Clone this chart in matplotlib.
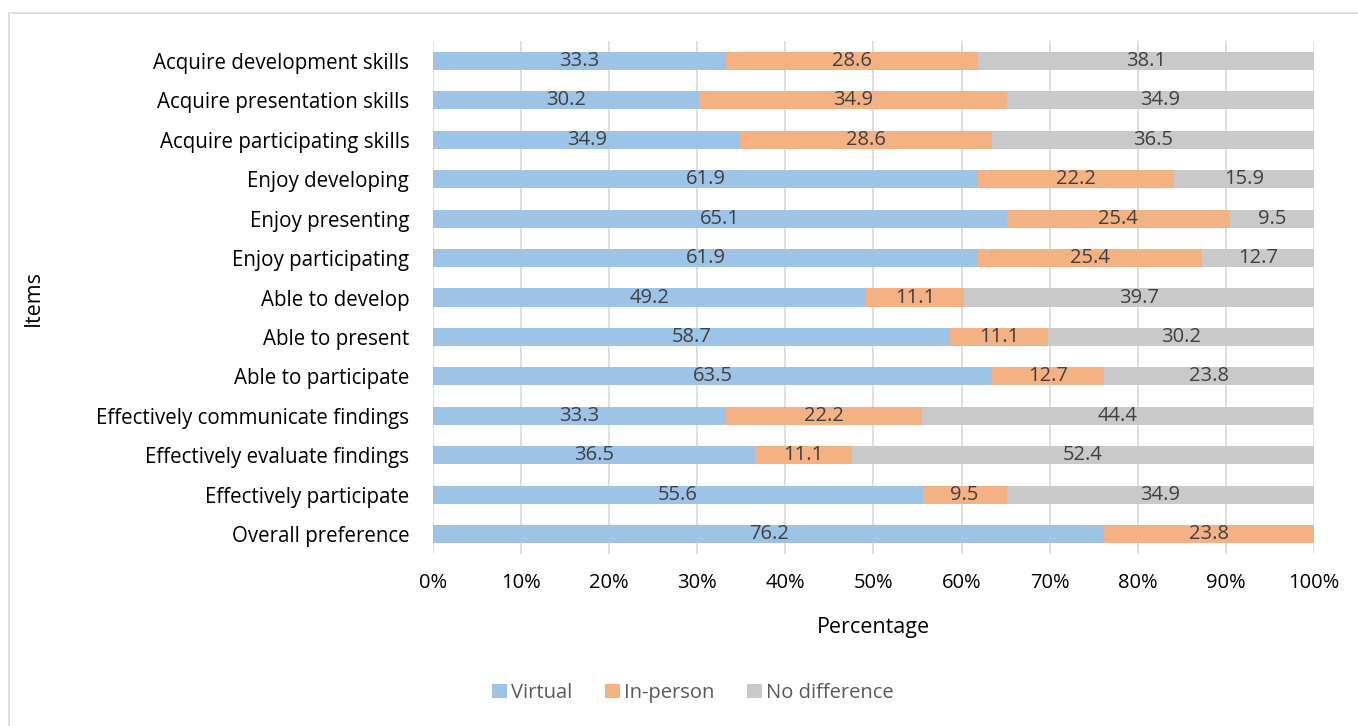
import matplotlib.pyplot as plt
from matplotlib.patches import Rectangle

items = ["Acquire development skills", "Acquire presentation skills",
         "Acquire participating skills", "Enjoy developing", "Enjoy presenting",
         "Enjoy participating", "Able to develop", "Able to present",
         "Able to participate", "Effectively communicate findings",
         "Effectively evaluate findings", "Effectively participate",
         "Overall preference"]
virtual = [33.3, 30.2, 34.9, 61.9, 65.1, 61.9, 49.2, 58.7, 63.5, 33.3, 36.5, 55.6, 76.2]
in_person = [28.6, 34.9, 28.6, 22.2, 25.4, 25.4, 11.1, 11.1, 12.7, 22.2, 11.1, 9.5, 23.8]
no_diff = [38.1, 34.9, 36.5, 15.9, 9.5, 12.7, 39.7, 30.2, 23.8, 44.4, 52.4, 34.9, 0.0]

plt.rcParams['font.family'] = ['Open Sans', 'DejaVu Sans']

fig = plt.figure(figsize=(13.58, 7.26), dpi=100)
fig.patches.append(Rectangle((9 / 1358, -0.1), 1.2, 1 - 13 / 726 + 0.1,
                             transform=fig.transFigure, fill=False,
                             edgecolor="#d9d9d9", linewidth=1.2))
ax = fig.add_axes([0.3188, 0.2373, 0.6488, 0.7058])

y = list(range(len(items)))
series = [("Virtual", virtual, "#9dc3e6"),
          ("In-person", in_person, "#f4b183"),
          ("No difference", no_diff, "#c9c9c9")]
left = [0.0] * len(items)
for name, vals, col in series:
    bars = ax.barh(y, vals, left=left, height=0.46, color=col, label=name, zorder=3)
    for b, v in zip(bars, vals):
        if v > 0:
            ax.text(b.get_x() + b.get_width() / 2, b.get_y() + b.get_height() / 2,
                    f"{v:.1f}", ha="center", va="center", fontsize=14.5,
                    color="#404040", zorder=4)
    left = [l + v for l, v in zip(left, vals)]

ax.set_xlim(0, 100)
ax.set_ylim(len(items) - 0.5, -0.5)
ax.set_yticks(y)
ax.set_yticklabels(items, fontsize=14.8)
ax.set_xticks(range(0, 101, 10))
ax.set_xticklabels([f"{t}%" for t in range(0, 101, 10)], fontsize=14.5)
ax.tick_params(length=0)
ax.tick_params(axis="y", pad=17)
ax.tick_params(axis="x", pad=14)
ax.grid(axis="x", color="#d9d9d9", linewidth=1.2, zorder=0)
for s in ax.spines.values():
    s.set_visible(False)

ax.set_xlabel("Percentage", fontsize=15.5)
ax.xaxis.set_label_coords(0.5, -0.124)
ax.set_ylabel("Items", fontsize=15.5)
ax.yaxis.set_label_coords(-0.442, 0.5)

leg = ax.legend(loc="center", bbox_to_anchor=(0.295, -0.272), ncol=3, frameon=False,
                fontsize=14.5, handlelength=0.75, handleheight=0.75,
                handletextpad=0.2, columnspacing=1.6)
for t in leg.get_texts():
    t.set_color("#595959")

fig.savefig("out.png", dpi=100)
